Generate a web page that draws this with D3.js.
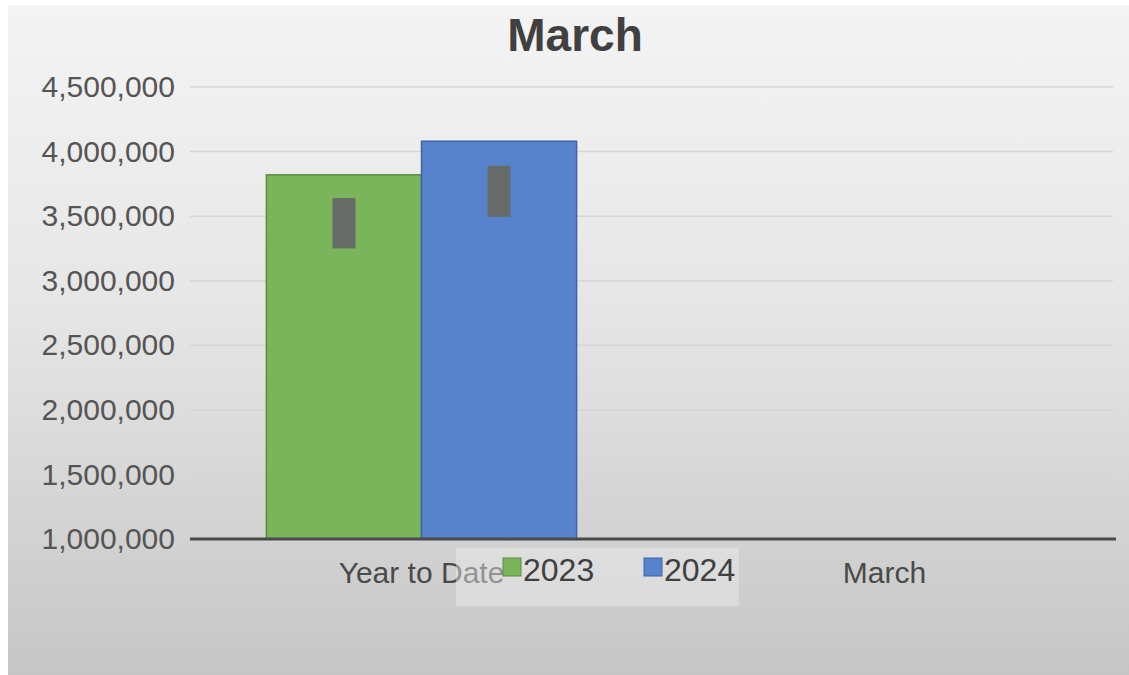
<!DOCTYPE html>
<html>
<head>
<meta charset="utf-8">
<script src="https://cdn.jsdelivr.net/npm/d3@7"></script>
<style>
  body { margin: 0; background: #fff; }
  text { font-family: "Liberation Sans", Arial, sans-serif; }
</style>
</head>
<body>
<svg id="chart" width="1129" height="675"></svg>
<script>
// values
var categories = ["Year to Date", "March"];
var series = ["2023", "2024"];
var values2023 = [3820000, null];
var values2024 = [4080000, null];
var markLow = [3250000, 3495000];   // grey inner markers, per series on Year to Date
var markHigh = [3640000, 3890000];
var yTicks = [1000000, 1500000, 2000000, 2500000, 3000000, 3500000, 4000000, 4500000];

var colors = { "2023": "#7ab55c", "2024": "#5683cb" };
var strokes = { "2023": "#5b8d40", "2024": "#3d64a8" };

var svg = d3.select("#chart");

// background with gradient
var defs = svg.append("defs");
var grad = defs.append("linearGradient").attr("id", "bg").attr("x1", 0).attr("y1", 0).attr("x2", 0).attr("y2", 1);
grad.append("stop").attr("offset", "0%").attr("stop-color", "#f4f4f4");
grad.append("stop").attr("offset", "45%").attr("stop-color", "#e6e6e6");
grad.append("stop").attr("offset", "100%").attr("stop-color", "#c6c6c6");
svg.append("rect").attr("x", 8).attr("y", 5).attr("width", 1121).attr("height", 670).attr("fill", "url(#bg)");

var y = d3.scaleLinear().domain([1000000, 4500000]).range([539, 87]);
var x = d3.scaleBand().domain(categories).range([190, 1116]);
var bw = x.bandwidth();
var x1 = d3.scaleBand().domain(series).range([bw * 0.165, bw * 0.835]);

// gridlines
svg.append("g").selectAll("line").data(yTicks.slice(1)).join("line")
  .attr("x1", 190).attr("x2", 1113)
  .attr("y1", function(d) { return y(d); }).attr("y2", function(d) { return y(d); })
  .attr("stroke", "#d6d6d6").attr("stroke-width", 1.5);

// y axis labels
var yAxis = d3.axisLeft(y).tickValues(yTicks).tickFormat(d3.format(",")).tickSize(0).tickPadding(15);
var ya = svg.append("g").attr("transform", "translate(190,0)").call(yAxis);
ya.select(".domain").remove();
ya.selectAll("text").attr("font-size", 30).attr("fill", "#555")
  .attr("font-family", "Liberation Sans, Arial, sans-serif");

// bars
var rows = [values2023, values2024];
series.forEach(function(s, si) {
  var data = categories.map(function(c, ci) { return { cat: c, v: rows[si][ci] }; })
    .filter(function(d) { return d.v != null; });
  svg.append("g").selectAll("rect").data(data).join("rect")
    .attr("x", function(d) { return x(d.cat) + x1(s); })
    .attr("y", function(d) { return y(d.v); })
    .attr("width", x1.bandwidth())
    .attr("height", function(d) { return y(1000000) - y(d.v); })
    .attr("fill", colors[s]).attr("stroke", strokes[s]).attr("stroke-width", 1.5);
});

// grey inner markers
svg.append("g").selectAll("rect").data(series).join("rect")
  .attr("x", function(s) { return x(categories[0]) + x1(s) + x1.bandwidth() / 2 - 11.5; })
  .attr("y", function(s, i) { return y(markHigh[i]); })
  .attr("width", 23)
  .attr("height", function(s, i) { return y(markLow[i]) - y(markHigh[i]); })
  .attr("fill", "#666b68");

// x axis line
svg.append("line").attr("x1", 190).attr("x2", 1116).attr("y1", y(1000000)).attr("y2", y(1000000))
  .attr("stroke", "#4a4a4a").attr("stroke-width", 3);

// category labels
svg.append("g").selectAll("text").data(categories).join("text")
  .attr("x", function(d) { return x(d) + bw / 2; })
  .attr("y", 583)
  .attr("text-anchor", "middle").attr("font-size", 30).attr("fill", "#4a4a4a")
  .text(function(d) { return d; });

// title
svg.append("text").attr("x", 575).attr("y", 51).attr("text-anchor", "middle")
  .attr("font-size", 46).attr("font-weight", "bold").attr("fill", "#404040").text("March");

// legend
var lg = svg.append("g");
lg.append("rect").attr("x", 456).attr("y", 548).attr("width", 283).attr("height", 58)
  .attr("fill", "#ededed").attr("fill-opacity", 0.45);
var lx = [503, 644];
series.forEach(function(s, i) {
  lg.append("rect").attr("x", lx[i]).attr("y", 558).attr("width", 18).attr("height", 18)
    .attr("fill", colors[s]).attr("stroke", strokes[s]).attr("stroke-width", 1);
  lg.append("text").attr("x", lx[i] + 20).attr("y", 581).attr("font-size", 32).attr("fill", "#404040").text(s);
});
</script>
</body>
</html>
